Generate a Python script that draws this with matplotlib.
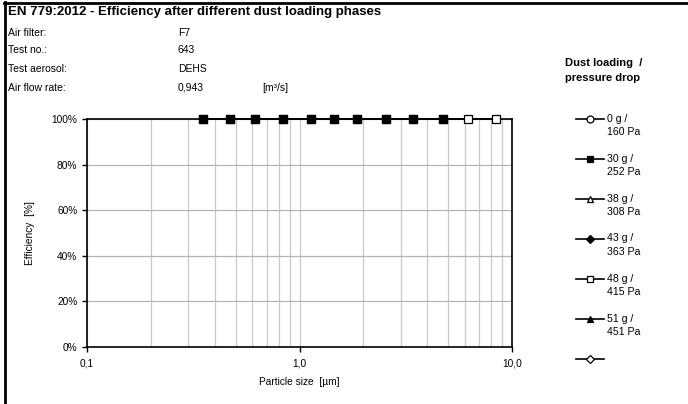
import numpy as np
import matplotlib
matplotlib.use("Agg")
import matplotlib.pyplot as plt
from matplotlib.lines import Line2D
from matplotlib.ticker import FixedLocator, FuncFormatter

plt.rcParams['font.family'] = ['Liberation Sans', 'DejaVu Sans']

# test info
title = "EN 779:2012 - Efficiency after different dust loading phases"
info_labels = ["Air filter:", "Test no.:", "Test aerosol:", "Air flow rate:"]
info_values = ["F7", "643", "DEHS", "0,943"]
flow_unit = "[m³/s]"

# particle sizes [um]
sizes = [0.35, 0.47, 0.62, 0.84, 1.13, 1.45, 1.87, 2.55, 3.42, 4.73, 6.21, 8.41]

# efficiency [%] per dust loading phase (nan = no point drawn)
nan = np.nan
eff_0g = [100, 100, 100, 100, 100, 100, 100, 100, 100, 100, 100, 100]
eff_30g = [100, 100, 100, 100, 100, 100, 100, 100, 100, 100, nan, nan]
eff_38g = [100, 100, 100, 100, 100, 100, 100, 100, 100, 100, 100, 100]
eff_43g = [100, 100, 100, 100, 100, 100, 100, 100, 100, 100, nan, nan]
eff_48g = [100, 100, 100, 100, 100, 100, 100, 100, 100, 100, 100, 100]
eff_51g = [100, 100, 100, 100, 100, 100, 100, 100, 100, 100, nan, nan]

series_labels = ["0 g /\n160 Pa", "30 g /\n252 Pa", "38 g /\n308 Pa",
                 "43 g /\n363 Pa", "48 g /\n415 Pa", "51 g /\n451 Pa", ""]
series_data = [eff_0g, eff_30g, eff_38g, eff_43g, eff_48g, eff_51g, []]
markers = ["o", "s", "^", "D", "s", "^", "D"]
filled = [False, True, False, True, False, True, False]
zorders = [3, 8, 4, 7, 5, 6, 3]

x_ticks = [0.1, 1.0, 10.0]
y_ticks = [0, 20, 40, 60, 80, 100]

W, H = 688, 404
fig = plt.figure(figsize=(W / 100, H / 100), dpi=100)

ax = fig.add_axes([87 / W, 1 - 347 / H, (512 - 87) / W, (347 - 119) / H])
ax.set_xscale("log")
ax.set_xlim(0.1, 10)
ax.set_ylim(0, 100)

minor = [m * d for d in (0.1, 1.0) for m in range(2, 10)]
ax.xaxis.set_major_locator(FixedLocator(x_ticks))
ax.xaxis.set_minor_locator(FixedLocator(minor))
ax.xaxis.set_major_formatter(FuncFormatter(lambda v, p: f"{v:.1f}".replace(".", ",")))
ax.xaxis.set_minor_formatter(FuncFormatter(lambda v, p: ""))
ax.set_yticks(y_ticks)
ax.yaxis.set_major_formatter(FuncFormatter(lambda v, p: f"{v:.0f}%"))

ax.grid(True, which="both", axis="x", color="#c8c8c8", linewidth=0.9)
ax.grid(True, which="major", axis="y", color="#b4b4b4", linewidth=0.9)
ax.set_axisbelow(True)
ax.tick_params(axis="both", which="major", labelsize=7.3, length=3.5, width=1, direction="out", color="black")
ax.tick_params(axis="x", which="minor", length=0)
ax.tick_params(axis="x", pad=5)
for s in ax.spines.values():
    s.set_linewidth(1.2)

for eff, mk, fl, z in zip(series_data, markers, filled, zorders):
    if not eff:
        continue
    ax.plot(sizes, eff, color="black", linewidth=1.2, marker=mk,
            markersize=5.5 if mk == "s" else 4,
            markerfacecolor="black" if fl else "white", markeredgecolor="black",
            markeredgewidth=0.9, zorder=z, clip_on=False)

ax.set_xlabel("Particle size  [µm]", fontsize=7.3, labelpad=6)
ax.set_ylabel("Efficiency  [%]", fontsize=7.3, labelpad=12)

# header block
fig.text(8 / W, 1 - 12 / H, title, fontsize=9.5, fontweight="bold", va="center")
rows_y = [32, 49, 68, 87]
for lab, val, yy in zip(info_labels, info_values, rows_y):
    fig.text(8 / W, 1 - (yy + 3.7) / H, lab, fontsize=7.5, va="baseline")
    fig.text(178 / W, 1 - (yy + 3.7) / H, val, fontsize=7.5, va="baseline")
fig.text(262 / W, 1 - (87 + 3.7) / H, flow_unit, fontsize=7.5, va="baseline")

# legend drawn by hand to keep the marker beside the first text line
fig.text(565 / W, 1 - 63 / H, "Dust loading  /", fontsize=8, fontweight="bold", va="center")
fig.text(565 / W, 1 - 78 / H, "pressure drop", fontsize=8, fontweight="bold", va="center")
for i, (lab, mk, fl) in enumerate(zip(series_labels, markers, filled)):
    yy = 119 + 40 * i
    fig.add_artist(Line2D([576 / W, 604 / W], [1 - yy / H, 1 - yy / H], transform=fig.transFigure,
                          color="black", linewidth=1.2))
    fig.add_artist(Line2D([590 / W], [1 - yy / H], transform=fig.transFigure, color="black",
                          marker=mk, markersize=5 if mk != "D" else 4,
                          markerfacecolor="black" if fl else "white",
                          markeredgecolor="black", markeredgewidth=0.9))
    if lab:
        fig.text(607 / W, 1 - (yy - 5.5) / H, lab, fontsize=7.6, va="top", linespacing=1.45)

# frame lines on left and top
fig.add_artist(Line2D([5 / W, 5 / W], [0, 1 - 2 / H], transform=fig.transFigure, color="black", linewidth=2))
fig.add_artist(Line2D([4 / W, 1], [1 - 3 / H, 1 - 3 / H], transform=fig.transFigure, color="black", linewidth=2))

fig.savefig("out.png", dpi=100)
